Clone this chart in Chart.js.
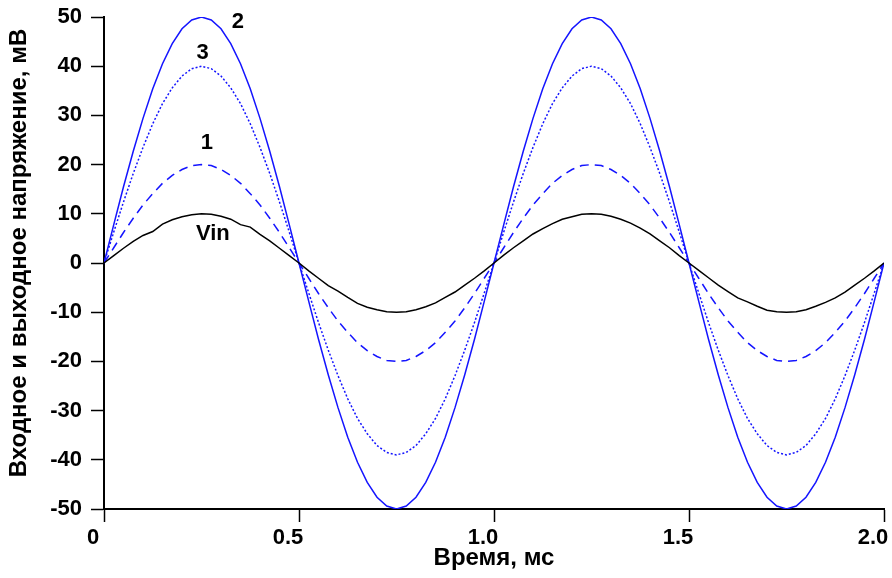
<!DOCTYPE html>
<html>
<head>
<meta charset="utf-8">
<script src="https://cdn.jsdelivr.net/npm/chart.js@4.4.1/dist/chart.umd.min.js"></script>
<style>
html,body{margin:0;padding:0;background:#fff;}
canvas{display:block;}
</style>
</head>
<body>
<canvas id="c" width="892" height="578"></canvas>
<script>
// Time axis (ms), sampled every 0.025 ms
const timeMs = [
  0.000,0.025,0.050,0.075,0.100,0.125,0.150,0.175,0.200,0.225,
  0.250,0.275,0.300,0.325,0.350,0.375,0.400,0.425,0.450,0.475,
  0.500,0.525,0.550,0.575,0.600,0.625,0.650,0.675,0.700,0.725,
  0.750,0.775,0.800,0.825,0.850,0.875,0.900,0.925,0.950,0.975,
  1.000,1.025,1.050,1.075,1.100,1.125,1.150,1.175,1.200,1.225,
  1.250,1.275,1.300,1.325,1.350,1.375,1.400,1.425,1.450,1.475,
  1.500,1.525,1.550,1.575,1.600,1.625,1.650,1.675,1.700,1.725,
  1.750,1.775,1.800,1.825,1.850,1.875,1.900,1.925,1.950,1.975,
  2.000
];

// Vin (black solid), mV
const vin = [
  0,1.5,3.0,4.4,5.6,6.4,7.9,8.8,9.4,9.8,
  10.0,9.9,9.5,8.9,7.8,7.3,5.8,4.5,3.0,1.5,
  0,-1.6,-3.1,-4.6,-5.7,-7.0,-8.2,-9.0,-9.5,-9.9,
  -10.0,-9.9,-9.5,-8.9,-8.1,-7.0,-5.9,-4.5,-3.1,-1.6,
  0,1.6,3.1,4.5,5.9,7.0,8.0,8.9,9.4,9.9,
  10.0,9.9,9.5,8.9,8.1,7.1,5.9,4.5,3.1,1.5,
  0,-1.5,-3.0,-4.5,-5.8,-7.1,-7.9,-8.8,-9.6,-9.9,
  -10.0,-9.9,-9.5,-8.8,-8.0,-7.1,-5.9,-4.5,-3.1,-1.6,
  0
];

// Curve 1 (blue dashed), mV
const curve1 = [
  0,3.1,6.2,9.1,11.8,14.1,16.2,17.8,19.0,19.8,
  20.0,19.8,19.0,17.8,16.2,14.1,11.8,9.1,6.2,3.1,
  0,-3.1,-6.2,-9.1,-11.8,-14.1,-16.2,-17.8,-19.0,-19.8,
  -20.0,-19.8,-19.0,-17.8,-16.2,-14.1,-11.8,-9.1,-6.2,-3.1,
  0,3.1,6.2,9.1,11.8,14.1,16.2,17.8,19.0,19.8,
  20.0,19.8,19.0,17.8,16.2,14.1,11.8,9.1,6.2,3.1,
  0,-3.1,-6.2,-9.1,-11.8,-14.1,-16.2,-17.8,-19.0,-19.8,
  -20.0,-19.8,-19.0,-17.8,-16.2,-14.1,-11.8,-9.1,-6.2,-3.1,
  0
];

// Curve 2 (blue solid), mV
const curve2 = [
  0,7.8,15.5,22.7,29.4,35.4,40.5,44.6,47.6,49.4,
  50.0,49.4,47.6,44.6,40.5,35.4,29.4,22.7,15.5,7.8,
  0,-7.8,-15.5,-22.7,-29.4,-35.4,-40.5,-44.6,-47.6,-49.4,
  -50.0,-49.4,-47.6,-44.6,-40.5,-35.4,-29.4,-22.7,-15.5,-7.8,
  0,7.8,15.5,22.7,29.4,35.4,40.5,44.6,47.6,49.4,
  50.0,49.4,47.6,44.6,40.5,35.4,29.4,22.7,15.5,7.8,
  0,-7.8,-15.5,-22.7,-29.4,-35.4,-40.5,-44.6,-47.6,-49.4,
  -50.0,-49.4,-47.6,-44.6,-40.5,-35.4,-29.4,-22.7,-15.5,-7.8,
  0
];

// Curve 3 (blue dotted), mV
const curve3 = [
  0,6.3,12.4,18.2,23.5,28.3,32.4,35.6,38.0,39.5,
  40.0,39.5,38.0,35.6,32.4,28.3,23.5,18.2,12.4,6.3,
  0,-6.1,-12.1,-17.7,-22.9,-27.6,-31.6,-34.7,-37.1,-38.5,
  -39.0,-38.5,-37.1,-34.7,-31.6,-27.6,-22.9,-17.7,-12.1,-6.1,
  0,6.3,12.4,18.2,23.5,28.3,32.4,35.6,38.0,39.5,
  40.0,39.5,38.0,35.6,32.4,28.3,23.5,18.2,12.4,6.3,
  0,-6.1,-12.1,-17.7,-22.9,-27.6,-31.6,-34.7,-37.1,-38.5,
  -39.0,-38.5,-37.1,-34.7,-31.6,-27.6,-22.9,-17.7,-12.1,-6.1,
  0
];

const xTickLabels = ['0','0.5','1.0','1.5','2.0'];
const yTickLabels = ['-50','-40','-30','-20','-10','0','10','20','30','40','50'];
const xTitle = 'Время, мс';
const yTitle = 'Входное и выходное напряжение, мВ';

// Curve labels (text, time ms, value mV)
const curveLabelText = ['2','3','1','Vin'];
const curveLabelX = [0.343, 0.253, 0.264, 0.279];
const curveLabelY = [49.0, 42.7, 24.5, 5.9];

const FONT = '"Liberation Sans", Arial, Helvetica, sans-serif';
const BLUE = 'rgb(20,20,255)';

function pts(ys){ return timeMs.map((t,i)=>({x:t,y:ys[i]})); }

const labelPlugin = {
  id:'curveLabels',
  afterDatasetsDraw(chart){
    const ctx = chart.ctx, xs = chart.scales.x, ys = chart.scales.y;
    ctx.save();
    ctx.fillStyle = '#000';
    ctx.font = 'bold 22px ' + FONT;
    ctx.textAlign = 'center';
    ctx.textBaseline = 'middle';
    curveLabelText.forEach((txt,i)=>{
      ctx.fillText(txt, xs.getPixelForValue(curveLabelX[i]), ys.getPixelForValue(curveLabelY[i]));
    });
    // rotated y-axis title, placed slightly above the plot-area centre
    const ca = chart.chartArea;
    ctx.font = 'bold 24px ' + FONT;
    ctx.translate(19, (ca.top + ca.bottom) / 2 - 10);
    ctx.rotate(-Math.PI / 2);
    ctx.fillText(yTitle, 0, 0);
    ctx.restore();
  }
};

new Chart(document.getElementById('c'), {
  type:'line',
  data:{
    datasets:[
      {label:'Vin', data:pts(vin), borderColor:'#000', borderWidth:1.5, pointRadius:0, tension:0, fill:false},
      {label:'1', data:pts(curve1), borderColor:BLUE, borderWidth:1.5, borderDash:[9,6], pointRadius:0, tension:0, fill:false},
      {label:'3', data:pts(curve3), borderColor:BLUE, borderWidth:1.5, borderDash:[2,2], pointRadius:0, tension:0, fill:false},
      {label:'2', data:pts(curve2), borderColor:BLUE, borderWidth:1.5, pointRadius:0, tension:0, fill:false}
    ]
  },
  options:{
    responsive:false,
    animation:false,
    devicePixelRatio:1,
    layout:{padding:{top:17,right:8,left:0,bottom:0}},
    plugins:{legend:{display:false}, tooltip:{enabled:false}},
    scales:{
      x:{
        type:'linear', min:0, max:2,
        ticks:{stepSize:0.5, color:'#000', font:{family:FONT, size:22, weight:'bold'}, padding:3, maxRotation:0,
          labelOffset:-11, callback:(v,i)=>xTickLabels[i]},
        grid:{drawOnChartArea:false, drawTicks:true, tickLength:13, tickColor:'#000', tickWidth:1.5},
        border:{display:true, color:'#000', width:2},
        title:{display:true, text:xTitle, color:'#000', font:{family:FONT, size:24, weight:'bold'}, padding:{top:0,bottom:5}},
        afterFit(s){ s.height = 69; s.paddingLeft = 0; s.paddingRight = 0; }
      },
      y:{
        type:'linear', min:-50, max:50,
        ticks:{stepSize:10, color:'#000', font:{family:FONT, size:22, weight:'bold'}, padding:9,
          callback:(v,i)=>yTickLabels[i]},
        grid:{drawOnChartArea:false, drawTicks:true, tickLength:13, tickColor:'#000', tickWidth:1.5},
        border:{display:true, color:'#000', width:2},
        title:{display:false},
        afterFit(s){ s.width = 104; s.paddingTop = 0; s.paddingBottom = 0; }
      }
    }
  },
  plugins:[labelPlugin]
});
</script>
</body>
</html>
